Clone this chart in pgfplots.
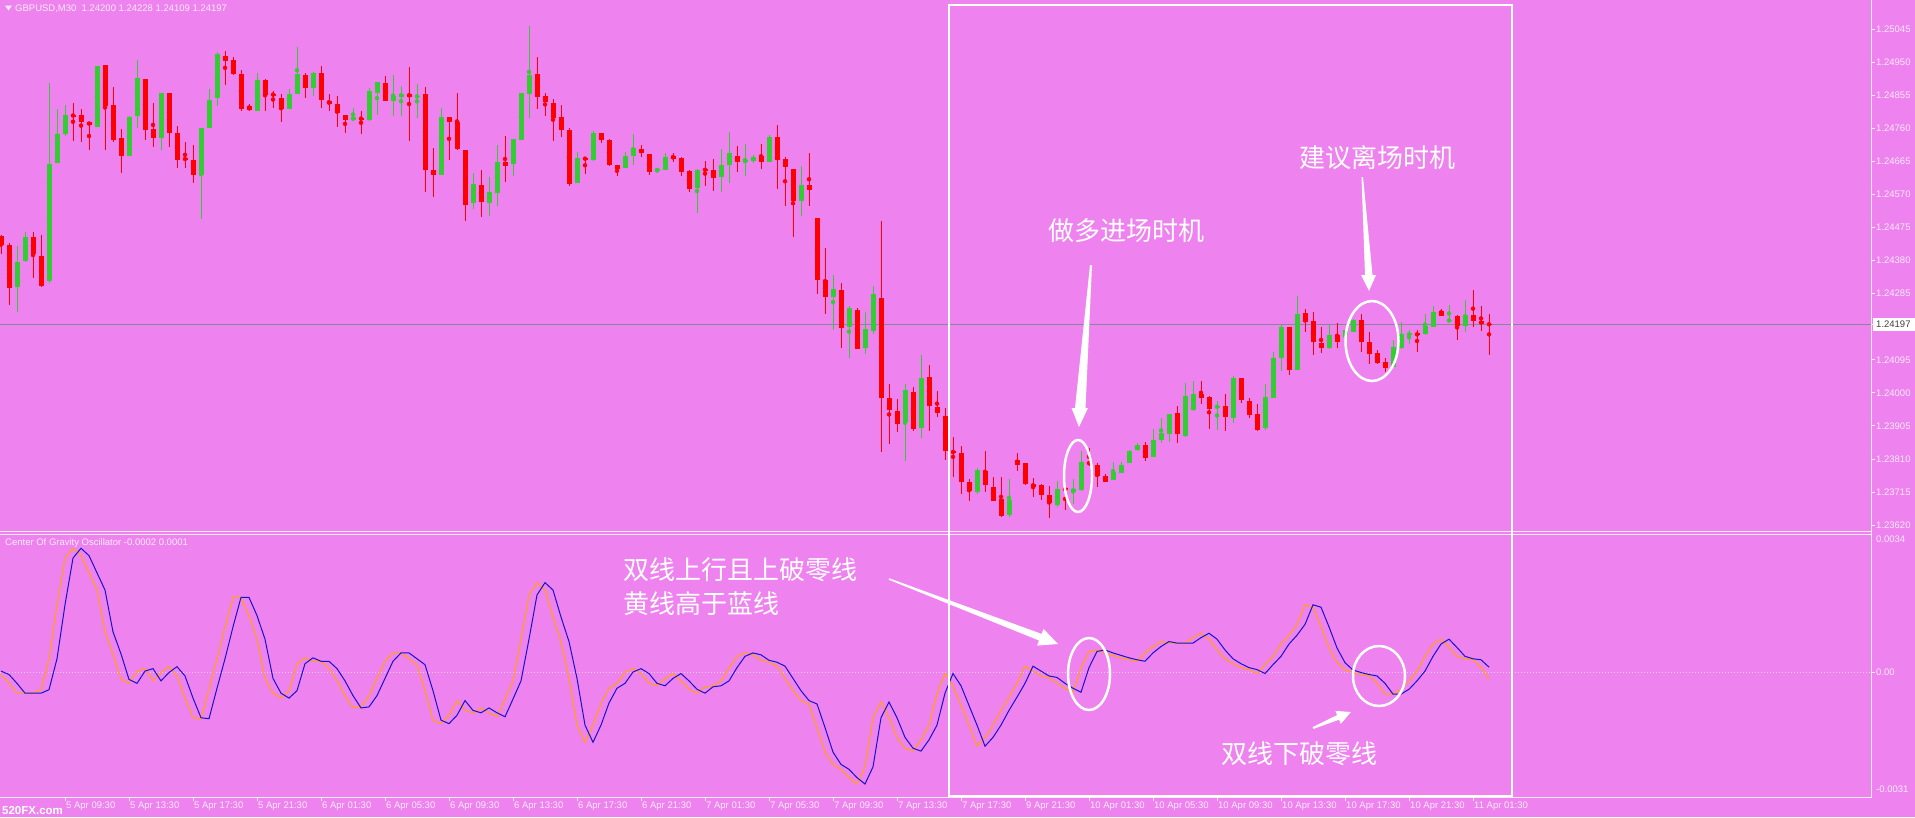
\documentclass[border=0pt]{standalone}
\usepackage{pgfplots}
\pgfplotsset{compat=1.18}
\usepackage{pgfplotstable}
\usepackage{fontspec}
\setmainfont{Liberation Sans}
\newfontfamily\cjk{Noto Sans CJK SC}
\definecolor{bg}{RGB}{238,130,238}
\definecolor{upc}{RGB}{50,205,50}
\definecolor{dnc}{RGB}{255,0,0}
\definecolor{lbl}{RGB}{250,236,250}
\definecolor{frm}{RGB}{245,235,245}
\definecolor{orc}{RGB}{255,165,0}
\definecolor{blc}{RGB}{20,20,205}
\definecolor{pl}{RGB}{135,135,155}
\newcommand{\sm}{\fontsize{9.5}{11}\selectfont}

\pgfplotstableread{
i o h l c
0 1.24451 1.24454 1.24401 1.24427
1 1.24427 1.24430 1.24253 1.24303
2 1.24303 1.24423 1.24232 1.24377
3 1.24377 1.24462 1.24377 1.24448
4 1.24448 1.24462 1.24331 1.24399
5 1.24394 1.24454 1.24306 1.24306
6 1.24321 1.24891 1.24317 1.24659
7 1.24662 1.24817 1.24662 1.24744
8 1.24743 1.24829 1.24740 1.24800
9 1.24800 1.24834 1.24726 1.24795
10 1.24799 1.24817 1.24722 1.24778
11 1.24778 1.24778 1.24698 1.24772
12 1.24765 1.24941 1.24765 1.24941
13 1.24941 1.24944 1.24698 1.24824
14 1.24829 1.24881 1.24722 1.24726
15 1.24733 1.24761 1.24634 1.24681
16 1.24681 1.24796 1.24681 1.24792
17 1.24796 1.24956 1.24761 1.24905
18 1.24902 1.24902 1.24726 1.24754
19 1.24758 1.24834 1.24707 1.24733
20 1.24733 1.24863 1.24700 1.24863
21 1.24863 1.24863 1.24707 1.24747
22 1.24747 1.24768 1.24648 1.24669
23 1.24676 1.24722 1.24648 1.24669
24 1.24669 1.24712 1.24603 1.24627
25 1.24627 1.24761 1.24500 1.24761
26 1.24761 1.24874 1.24761 1.24843
27 1.24848 1.24980 1.24824 1.24975
28 1.24970 1.24984 1.24885 1.24956
29 1.24956 1.24965 1.24913 1.24916
30 1.24916 1.24930 1.24810 1.24817
31 1.24824 1.24831 1.24810 1.24813
32 1.24810 1.24919 1.24810 1.24899
33 1.24899 1.24902 1.24810 1.24857
34 1.24860 1.24867 1.24820 1.24854
35 1.24848 1.24860 1.24778 1.24817
36 1.24817 1.24874 1.24817 1.24860
37 1.24860 1.24994 1.24860 1.24916
38 1.24913 1.24919 1.24848 1.24877
39 1.24877 1.24923 1.24853 1.24919
40 1.24919 1.24941 1.24820 1.24843
41 1.24841 1.24860 1.24810 1.24831
42 1.24831 1.24853 1.24764 1.24803
43 1.24800 1.24800 1.24747 1.24786
44 1.24784 1.24820 1.24782 1.24792
45 1.24792 1.24810 1.24744 1.24786
46 1.24786 1.24877 1.24782 1.24867
47 1.24863 1.24895 1.24800 1.24895
48 1.24891 1.24913 1.24839 1.24839
49 1.24839 1.24913 1.24796 1.24853
50 1.24853 1.24881 1.24796 1.24860
51 1.24860 1.24937 1.24726 1.24853
52 1.24851 1.24888 1.24789 1.24855
53 1.24860 1.24881 1.24578 1.24641
54 1.24641 1.24705 1.24564 1.24627
55 1.24627 1.24820 1.24627 1.24792
56 1.24792 1.24792 1.24669 1.24778
57 1.24778 1.24863 1.24698 1.24702
58 1.24700 1.24700 1.24496 1.24542
59 1.24547 1.24634 1.24528 1.24599
60 1.24599 1.24641 1.24507 1.24549
61 1.24547 1.24623 1.24510 1.24578
62 1.24575 1.24712 1.24538 1.24662
63 1.24665 1.24740 1.24606 1.24654
64 1.24659 1.24730 1.24623 1.24730
65 1.24726 1.24863 1.24726 1.24863
66 1.24860 1.25054 1.24792 1.24913
67 1.24916 1.24965 1.24817 1.24850
68 1.24853 1.24863 1.24796 1.24837
69 1.24834 1.24846 1.24726 1.24789
70 1.24792 1.24829 1.24736 1.24754
71 1.24754 1.24764 1.24595 1.24599
72 1.24603 1.24693 1.24603 1.24674
73 1.24676 1.24679 1.24631 1.24671
74 1.24669 1.24754 1.24669 1.24747
75 1.24747 1.24747 1.24719 1.24726
76 1.24726 1.24730 1.24651 1.24655
77 1.24655 1.24655 1.24623 1.24645
78 1.24648 1.24693 1.24648 1.24683
79 1.24683 1.24744 1.24655 1.24705
80 1.24702 1.24712 1.24679 1.24690
81 1.24688 1.24688 1.24627 1.24637
82 1.24637 1.24648 1.24634 1.24644
83 1.24641 1.24690 1.24641 1.24679
84 1.24682 1.24690 1.24665 1.24674
85 1.24674 1.24679 1.24624 1.24634
86 1.24637 1.24641 1.24578 1.24585
87 1.24589 1.24645 1.24518 1.24641
88 1.24645 1.24669 1.24595 1.24640
89 1.24641 1.24674 1.24581 1.24620
90 1.24620 1.24702 1.24578 1.24655
91 1.24655 1.24750 1.24603 1.24690
92 1.24683 1.24712 1.24637 1.24665
93 1.24665 1.24716 1.24623 1.24669
94 1.24665 1.24683 1.24662 1.24679
95 1.24683 1.24716 1.24645 1.24665
96 1.24665 1.24740 1.24662 1.24736
97 1.24736 1.24768 1.24585 1.24669
98 1.24672 1.24679 1.24538 1.24648
99 1.24645 1.24645 1.24448 1.24552
100 1.24552 1.24651 1.24507 1.24599
101 1.24599 1.24690 1.24538 1.24585
102 1.24503 1.24503 1.24284 1.24324
103 1.24324 1.24416 1.24228 1.24277
104 1.24275 1.24341 1.24183 1.24300
105 1.24296 1.24317 1.24129 1.24186
106 1.24189 1.24251 1.24101 1.24245
107 1.24239 1.24245 1.24126 1.24126
108 1.24129 1.24232 1.24112 1.24186
109 1.24180 1.24307 1.24169 1.24284
110 1.24275 1.24493 1.23830 1.23988
111 1.23985 1.24025 1.23852 1.23950
112 1.23950 1.23983 1.23887 1.23912
113 1.23915 1.24025 1.23805 1.24007
114 1.24002 1.24017 1.23890 1.23898
115 1.23901 1.24110 1.23870 1.24045
116 1.24045 1.24081 1.23890 1.23964
117 1.23960 1.24007 1.23932 1.23943
118 1.23936 1.23957 1.23809 1.23833
119 1.23833 1.23873 1.23760 1.23828
120 1.23828 1.23847 1.23711 1.23743
121 1.23743 1.23753 1.23689 1.23718
122 1.23715 1.23785 1.23711 1.23777
123 1.23777 1.23833 1.23715 1.23735
124 1.23732 1.23757 1.23689 1.23692
125 1.23696 1.23760 1.23644 1.23647
126 1.23647 1.23753 1.23644 1.23692
127 1.23809 1.23830 1.23777 1.23795
128 1.23799 1.23799 1.23735 1.23739
129 1.23739 1.23757 1.23703 1.23729
130 1.23735 1.23739 1.23692 1.23706
131 1.23706 1.23732 1.23640 1.23682
132 1.23678 1.23749 1.23675 1.23725
133 1.23727 1.23727 1.23664 1.23720
134 1.23715 1.23753 1.23682 1.23725
135 1.23720 1.23833 1.23718 1.23802
136 1.23802 1.23842 1.23791 1.23795
137 1.23795 1.23799 1.23732 1.23763
138 1.23763 1.23767 1.23743 1.23746
139 1.23749 1.23802 1.23749 1.23774
140 1.23771 1.23802 1.23771 1.23795
141 1.23799 1.23837 1.23799 1.23833
142 1.23835 1.23856 1.23833 1.23852
143 1.23852 1.23859 1.23805 1.23813
144 1.23816 1.23898 1.23816 1.23866
145 1.23866 1.23929 1.23856 1.23887
146 1.23884 1.23940 1.23859 1.23940
147 1.23943 1.23964 1.23856 1.23884
148 1.23876 1.24028 1.23873 1.23993
149 1.23950 1.24035 1.23950 1.23997
150 1.23997 1.24035 1.23969 1.23988
151 1.23988 1.23993 1.23898 1.23954
152 1.23957 1.23978 1.23894 1.23964
153 1.23964 1.23997 1.23890 1.23932
154 1.23929 1.24049 1.23915 1.24042
155 1.24042 1.24042 1.23971 1.23978
156 1.23978 1.23985 1.23929 1.23936
157 1.23940 1.23969 1.23890 1.23894
158 1.23898 1.24025 1.23894 1.23988
159 1.23988 1.24119 1.23985 1.24101
160 1.24101 1.24197 1.24063 1.24190
161 1.24190 1.24190 1.24053 1.24067
162 1.24067 1.24279 1.24067 1.24228
163 1.24228 1.24242 1.24176 1.24204
164 1.24207 1.24232 1.24110 1.24148
165 1.24146 1.24190 1.24115 1.24129
166 1.24129 1.24194 1.24126 1.24166
167 1.24166 1.24200 1.24129 1.24148
168 1.24166 1.24180 1.24148 1.24180
169 1.24176 1.24214 1.24176 1.24211
170 1.24211 1.24228 1.24119 1.24148
171 1.24148 1.24176 1.24084 1.24112
172 1.24115 1.24124 1.24084 1.24087
173 1.24090 1.24101 1.24059 1.24073
174 1.24077 1.24152 1.24077 1.24134
175 1.24129 1.24204 1.24126 1.24169
176 1.24166 1.24180 1.24141 1.24172
177 1.24172 1.24180 1.24119 1.24166
178 1.24169 1.24228 1.24166 1.24193
179 1.24190 1.24251 1.24190 1.24232
180 1.24236 1.24242 1.24221 1.24222
181 1.24207 1.24253 1.24204 1.24211
182 1.24222 1.24225 1.24152 1.24193
183 1.24193 1.24267 1.24176 1.24225
184 1.24225 1.24296 1.24190 1.24208
185 1.24208 1.24251 1.24180 1.24197
186 1.24200 1.24228 1.24109 1.24197
}\candles

\pgfplotstableread{
i main sig
0 -0.000061 0.000024
1 -0.000280 -0.000061
2 -0.000524 -0.000280
3 -0.000524 -0.000524
4 -0.000524 -0.000524
5 -0.000439 -0.000524
6 0.000329 -0.000439
7 0.001669 0.000329
8 0.002827 0.001669
9 0.003071 0.002827
10 0.002888 0.003071
11 0.002462 0.002888
12 0.002035 0.002462
13 0.000999 0.002035
14 0.000451 0.000999
15 -0.000183 0.000451
16 -0.000280 -0.000183
17 0.000024 -0.000280
18 0.000085 0.000024
19 -0.000219 0.000085
20 -0.000012 -0.000219
21 0.000134 -0.000012
22 -0.000097 0.000134
23 -0.000646 -0.000097
24 -0.001133 -0.000646
25 -0.001158 -0.001133
26 -0.000402 -0.001158
27 0.000329 -0.000402
28 0.001121 0.000329
29 0.001852 0.001121
30 0.001852 0.001852
31 0.001401 0.001852
32 0.000816 0.001401
33 -0.000158 0.000816
34 -0.000524 -0.000158
35 -0.000646 -0.000524
36 -0.000463 -0.000646
37 0.000207 -0.000463
38 0.000353 0.000207
39 0.000268 0.000353
40 0.000268 0.000268
41 0.000085 0.000268
42 -0.000219 0.000085
43 -0.000585 -0.000219
44 -0.000890 -0.000585
45 -0.000865 -0.000890
46 -0.000585 -0.000865
47 -0.000158 -0.000585
48 0.000268 -0.000158
49 0.000475 0.000268
50 0.000475 0.000475
51 0.000329 0.000475
52 0.000183 0.000329
53 -0.000463 0.000183
54 -0.001194 -0.000463
55 -0.001280 -0.001194
56 -0.001072 -0.001280
57 -0.000707 -0.001072
58 -0.000951 -0.000707
59 -0.001011 -0.000951
60 -0.000890 -0.001011
61 -0.001011 -0.000890
62 -0.001109 -0.001011
63 -0.000670 -0.001109
64 -0.000219 -0.000670
65 0.000816 -0.000219
66 0.001913 0.000816
67 0.002218 0.001913
68 0.002035 0.002218
69 0.001365 0.002035
70 0.000756 0.001365
71 -0.000158 0.000756
72 -0.001316 -0.000158
73 -0.001743 -0.001316
74 -0.001316 -0.001743
75 -0.000768 -0.001316
76 -0.000402 -0.000768
77 -0.000280 -0.000402
78 0.000000 -0.000280
79 0.000085 0.000000
80 -0.000037 0.000085
81 -0.000280 -0.000037
82 -0.000341 -0.000280
83 -0.000158 -0.000341
84 -0.000037 -0.000158
85 -0.000219 -0.000037
86 -0.000427 -0.000219
87 -0.000524 -0.000427
88 -0.000366 -0.000524
89 -0.000341 -0.000366
90 -0.000219 -0.000341
91 0.000110 -0.000219
92 0.000390 0.000110
93 0.000475 0.000390
94 0.000427 0.000475
95 0.000292 0.000427
96 0.000244 0.000292
97 0.000146 0.000244
98 -0.000158 0.000146
99 -0.000463 -0.000158
100 -0.000707 -0.000463
101 -0.000792 -0.000707
102 -0.001377 -0.000792
103 -0.001986 -0.001377
104 -0.002291 -0.001986
105 -0.002413 -0.002291
106 -0.002620 -0.002413
107 -0.002778 -0.002620
108 -0.002352 -0.002778
109 -0.001133 -0.002352
110 -0.000743 -0.001133
111 -0.001133 -0.000743
112 -0.001621 -0.001133
113 -0.001889 -0.001621
114 -0.001962 -0.001889
115 -0.001682 -0.001962
116 -0.001316 -0.001682
117 -0.000524 -0.001316
118 -0.000037 -0.000524
119 -0.000341 -0.000037
120 -0.000829 -0.000341
121 -0.001316 -0.000829
122 -0.001840 -0.001316
123 -0.001621 -0.001840
124 -0.001316 -0.001621
125 -0.000951 -0.001316
126 -0.000621 -0.000951
127 -0.000280 -0.000621
128 0.000146 -0.000280
129 0.000024 0.000146
130 -0.000097 0.000024
131 -0.000134 -0.000097
132 -0.000280 -0.000134
133 -0.000402 -0.000280
134 -0.000500 -0.000402
135 0.000110 -0.000500
136 0.000512 0.000110
137 0.000548 0.000512
138 0.000475 0.000548
139 0.000414 0.000475
140 0.000353 0.000414
141 0.000305 0.000353
142 0.000268 0.000305
143 0.000475 0.000268
144 0.000634 0.000475
145 0.000756 0.000634
146 0.000719 0.000756
147 0.000719 0.000719
148 0.000719 0.000719
149 0.000853 0.000719
150 0.000963 0.000853
151 0.000816 0.000963
152 0.000548 0.000816
153 0.000329 0.000548
154 0.000207 0.000329
155 0.000110 0.000207
156 0.000061 0.000110
157 -0.000037 0.000061
158 0.000183 -0.000037
159 0.000390 0.000183
160 0.000695 0.000390
161 0.000914 0.000695
162 0.001182 0.000914
163 0.001669 0.001182
164 0.001609 0.001669
165 0.001121 0.001609
166 0.000597 0.001121
167 0.000232 0.000597
168 0.000049 0.000232
169 -0.000012 0.000049
170 -0.000061 -0.000012
171 -0.000097 -0.000061
172 -0.000280 -0.000097
173 -0.000548 -0.000280
174 -0.000548 -0.000548
175 -0.000427 -0.000548
176 -0.000219 -0.000427
177 0.000024 -0.000219
178 0.000390 0.000024
179 0.000695 0.000390
180 0.000816 0.000695
181 0.000609 0.000816
182 0.000390 0.000609
183 0.000329 0.000390
184 0.000305 0.000329
185 0.000122 0.000305
186 -0.000183 0.000122
}\osc

\begin{document}
\begin{tikzpicture}[x=1pt,y=1pt]
\fill[bg] (0pt,0pt) rectangle (1915pt,-817pt);

% ---------------- price panel ----------------
\begin{axis}[
  at={(0pt,0pt)}, anchor=north west,
  scale only axis, width=1871pt, height=532pt,
  xmin=-0.125, xmax=233.75, ymin=1.23600, ymax=1.25129,
  axis line style={draw=none},
  xtick=\empty,
  scaled y ticks=false,
  ytick={1.23620,1.23715,1.23810,1.23905,1.24000,1.24095,1.24285,1.24380,1.24475,1.24570,1.24665,1.24760,1.24855,1.24950,1.25045},
  yticklabels={1.23620,1.23715,1.23810,1.23905,1.24000,1.24095,1.24285,1.24380,1.24475,1.24570,1.24665,1.24760,1.24855,1.24950,1.25045},
  ytick pos=right, yticklabel pos=right,
  tick align=outside, major tick length=4pt,
  tick style={frm, line width=0.8pt},
  yticklabel style={font=\sm, text=lbl, inner sep=0pt, xshift=1pt},
  clip=true,
]
\addplot[pl, line width=0.9pt, forget plot] coordinates {(-0.125,1.24197) (233.75,1.24197)};
% wicks
\addplot[color=upc, only marks, mark=none, forget plot,
  restrict expr to domain={\thisrow{c}-\thisrow{o}}{0:1},
  error bars/.cd, y dir=both, y explicit, error mark=none,
  error bar style={line width=1pt, draw=upc}]
  table[x=i, y expr={(\thisrow{h}+\thisrow{l})/2}, y error expr={(\thisrow{h}-\thisrow{l})/2}] {\candles};
\addplot[color=dnc, only marks, mark=none, forget plot,
  restrict expr to domain={\thisrow{c}-\thisrow{o}}{-1:-0.00001},
  error bars/.cd, y dir=both, y explicit, error mark=none,
  error bar style={line width=1pt, draw=dnc}]
  table[x=i, y expr={(\thisrow{h}+\thisrow{l})/2}, y error expr={(\thisrow{h}-\thisrow{l})/2}] {\candles};
% bodies
\addplot[color=upc, only marks, mark=none, forget plot,
  restrict expr to domain={\thisrow{c}-\thisrow{o}}{0:1},
  error bars/.cd, y dir=both, y explicit, error mark=none,
  error bar style={line width=5pt, draw=upc}]
  table[x=i, y expr={(\thisrow{o}+\thisrow{c})/2}, y error expr={max(abs(\thisrow{c}-\thisrow{o})/2,0.000016)}] {\candles};
\addplot[color=dnc, only marks, mark=none, forget plot,
  restrict expr to domain={\thisrow{c}-\thisrow{o}}{-1:-0.00001},
  error bars/.cd, y dir=both, y explicit, error mark=none,
  error bar style={line width=5pt, draw=dnc}]
  table[x=i, y expr={(\thisrow{o}+\thisrow{c})/2}, y error expr={max(abs(\thisrow{c}-\thisrow{o})/2,0.000016)}] {\candles};
\end{axis}

% ---------------- oscillator panel ----------------
\begin{axis}[
  at={(0pt,-535pt)}, anchor=north west,
  scale only axis, width=1871pt, height=262pt,
  xmin=-0.125, xmax=233.75, ymin=-0.0031, ymax=0.0034,
  axis line style={draw=none},
  scaled y ticks=false,
  xtick={8,16,24,32,40,48,56,64,72,80,88,96,104,112,120,128,136,144,152,160,168,176,184},
  xticklabels={5 Apr 09:30,5 Apr 13:30,5 Apr 17:30,5 Apr 21:30,6 Apr 01:30,6 Apr 05:30,6 Apr 09:30,6 Apr 13:30,6 Apr 17:30,6 Apr 21:30,7 Apr 01:30,7 Apr 05:30,7 Apr 09:30,7 Apr 13:30,7 Apr 17:30,9 Apr 21:30,10 Apr 01:30,10 Apr 05:30,10 Apr 09:30,10 Apr 13:30,10 Apr 17:30,10 Apr 21:30,11 Apr 01:30},
  xtick pos=bottom, ytick pos=right,
  ytick={0}, yticklabels={},
  tick align=outside, major tick length=4pt,
  tick style={frm, line width=0.8pt},
  xticklabel style={font=\sm, text=lbl, anchor=north west, inner sep=0pt, xshift=1pt, yshift=-1pt},
  clip=true,
]
\addplot[lbl!70!bg, line width=0.8pt, dash pattern=on 1pt off 2pt, forget plot] coordinates {(-0.125,0) (233.75,0)};
\addplot[orc, line width=1pt] table[x=i, y=main] {\osc};
\addplot[blc, line width=1pt] table[x=i, y=sig] {\osc};
\end{axis}

\begin{scope}[y=-1pt]
% frames
\draw[frm, line width=1pt] (0,531.5) -- (1871,531.5);
\draw[frm, line width=1pt] (0,534.5) -- (1871,534.5);
\draw[frm, line width=1pt] (0,797) -- (1871.5,797);
\draw[frm, line width=1pt] (1871,0) -- (1871,797);
% current price box
\fill[white] (1873,318) rectangle (1915,331);
\draw[frm, line width=0.8pt] (1871,324.5) -- (1874,324.5);
\node[anchor=west, inner sep=0pt, text=black!75, font=\sm] at (1876,324.5) {1.24197};
% oscillator scale labels
\node[anchor=west, inner sep=0pt, text=lbl, font=\sm] at (1876,539) {0.0034};
\node[anchor=west, inner sep=0pt, text=lbl, font=\sm] at (1876,672) {0.00};
\node[anchor=west, inner sep=0pt, text=lbl, font=\sm] at (1876,789) {-0.0031};
% headers
\fill[lbl] (5,5.5) -- (12,5.5) -- (8.5,10.5) -- cycle;
\node[anchor=base west, inner sep=0pt, text=lbl, font=\sm] at (15,11.5) {GBPUSD,M30\ \ 1.24200 1.24228 1.24109 1.24197};
\node[anchor=base west, inner sep=0pt, text=lbl, font=\sm] at (5,545.5) {Center Of Gravity Oscillator -0.0002 0.0001};
% watermark
\node[anchor=base west, inner sep=0pt, text=white, font=\bfseries\fontsize{11.5}{13}\selectfont] at (2,814) {520FX.com};
% annotation box
\draw[white, line width=2.6pt] (949,5) rectangle (1512,796);
% texts
\node[anchor=west, inner sep=0pt, text=white, font=\cjk\fontsize{26}{30}\selectfont] at (1048,231) {做多进场时机};
\node[anchor=west, inner sep=0pt, text=white, font=\cjk\fontsize{26}{30}\selectfont] at (1299,158) {建议离场时机};
\node[anchor=west, inner sep=0pt, text=white, font=\cjk\fontsize{26}{30}\selectfont] at (623,570) {双线上行且上破零线};
\node[anchor=west, inner sep=0pt, text=white, font=\cjk\fontsize{26}{30}\selectfont] at (623,604) {黄线高于蓝线};
\node[anchor=west, inner sep=0pt, text=white, font=\cjk\fontsize{26}{30}\selectfont] at (1221,754) {双线下破零线};
% arrows
\fill[white] (1090,265) -- (1092,265) -- (1085.5,408) -- (1088,408) -- (1079,427) -- (1071.5,408) -- (1075,408) -- cycle;
\fill[white] (1361.5,177) -- (1363,177) -- (1372.5,275) -- (1376,275) -- (1369,291) -- (1361,275) -- (1365,275) -- cycle;
\fill[white] (889.3,578.3) -- (1041.6,633.9) -- (1043.5,628.8) -- (1058,644) -- (1037.1,645.6) -- (1039.0,640.5) -- (888.7,579.7) -- cycle;
\fill[white] (1312.6,727.1) -- (1337.1,715.1) -- (1335.4,710.9) -- (1351,712) -- (1340.8,723.9) -- (1339.1,719.7) -- (1313.4,728.9) -- cycle;
% ellipses
\draw[white, line width=2.5pt] (1078,476) ellipse [x radius=14, y radius=36];
\draw[white, line width=2.5pt] (1372,341) ellipse [x radius=26.5, y radius=40];
\draw[white, line width=2.5pt] (1089,674) ellipse [x radius=21, y radius=36];
\draw[white, line width=2.5pt] (1379,676) ellipse [x radius=26, y radius=30];
\end{scope}
\pgfresetboundingbox
\path[use as bounding box] (0pt,0pt) rectangle (1915pt,-817pt);
\end{tikzpicture}
\end{document}
